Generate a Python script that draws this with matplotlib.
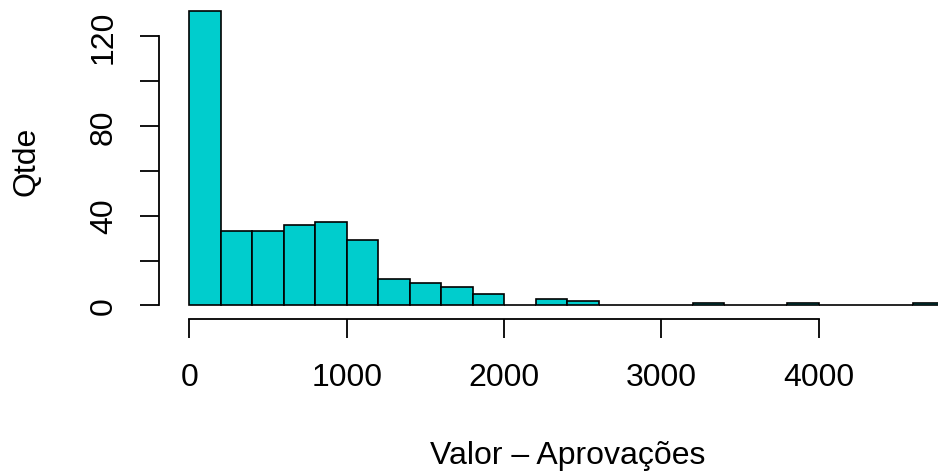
import numpy as np
import matplotlib
matplotlib.use("Agg")
import matplotlib.pyplot as plt

# Data
bin_width = 200
bin_edges = np.arange(0, 4801, bin_width)
counts = [131, 33, 33, 36, 37, 29, 12, 10, 8, 5, 0, 3, 2, 0, 0, 0, 1, 0, 0, 1, 0, 0, 0, 1]
xticks = [0, 1000, 2000, 3000, 4000]
yticks = [0, 20, 40, 60, 80, 100, 120]
ytick_labels = ["0", "", "40", "", "80", "", "120"]
xlabel = "Valor \u2013 Aprova\u00e7\u00f5es"
ylabel = "Qtde"

plt.rcParams['font.family'] = ['Liberation Sans', 'DejaVu Sans']
FS = 23

W, H = 938, 477
fig = plt.figure(figsize=(W / 100, H / 100), dpi=100)

# axes in pixel coordinates
left_px, right_px = 159.1, 975.0
top_px, bottom_px = 0.5, 319.5
ax = fig.add_axes([left_px / W, 1 - bottom_px / H,
                   (right_px - left_px) / W, (bottom_px - top_px) / H])

ax.bar(bin_edges[:-1], counts, width=bin_width, align='edge',
       color='#00CDCD', edgecolor='black', linewidth=1.2)

ax.set_xlim(-192, 4992)
ax.set_ylim(-5.8, 136.2)

for s in ['top', 'right']:
    ax.spines[s].set_visible(False)
ax.spines['left'].set_bounds(0, 120)
ax.spines['bottom'].set_bounds(0, 4000)
ax.spines['left'].set_linewidth(1.3)
ax.spines['bottom'].set_linewidth(1.3)

ax.set_xticks(xticks)
ax.set_xticklabels([str(v) for v in xticks], fontsize=FS)
ax.set_yticks(yticks)
ax.set_yticklabels(ytick_labels, fontsize=FS, rotation=90, va='center')
ax.tick_params(axis='both', length=14, width=1.3, direction='out')
ax.tick_params(axis='x', pad=17)
ax.tick_params(axis='y', pad=15)

fig.text(568 / W, 1 - 456 / H, xlabel, fontsize=FS, ha='center', va='center')
fig.text(26 / W, 1 - 161 / H, ylabel, fontsize=FS, ha='center', va='center', rotation=90)

fig.savefig("out.png", dpi=100)
